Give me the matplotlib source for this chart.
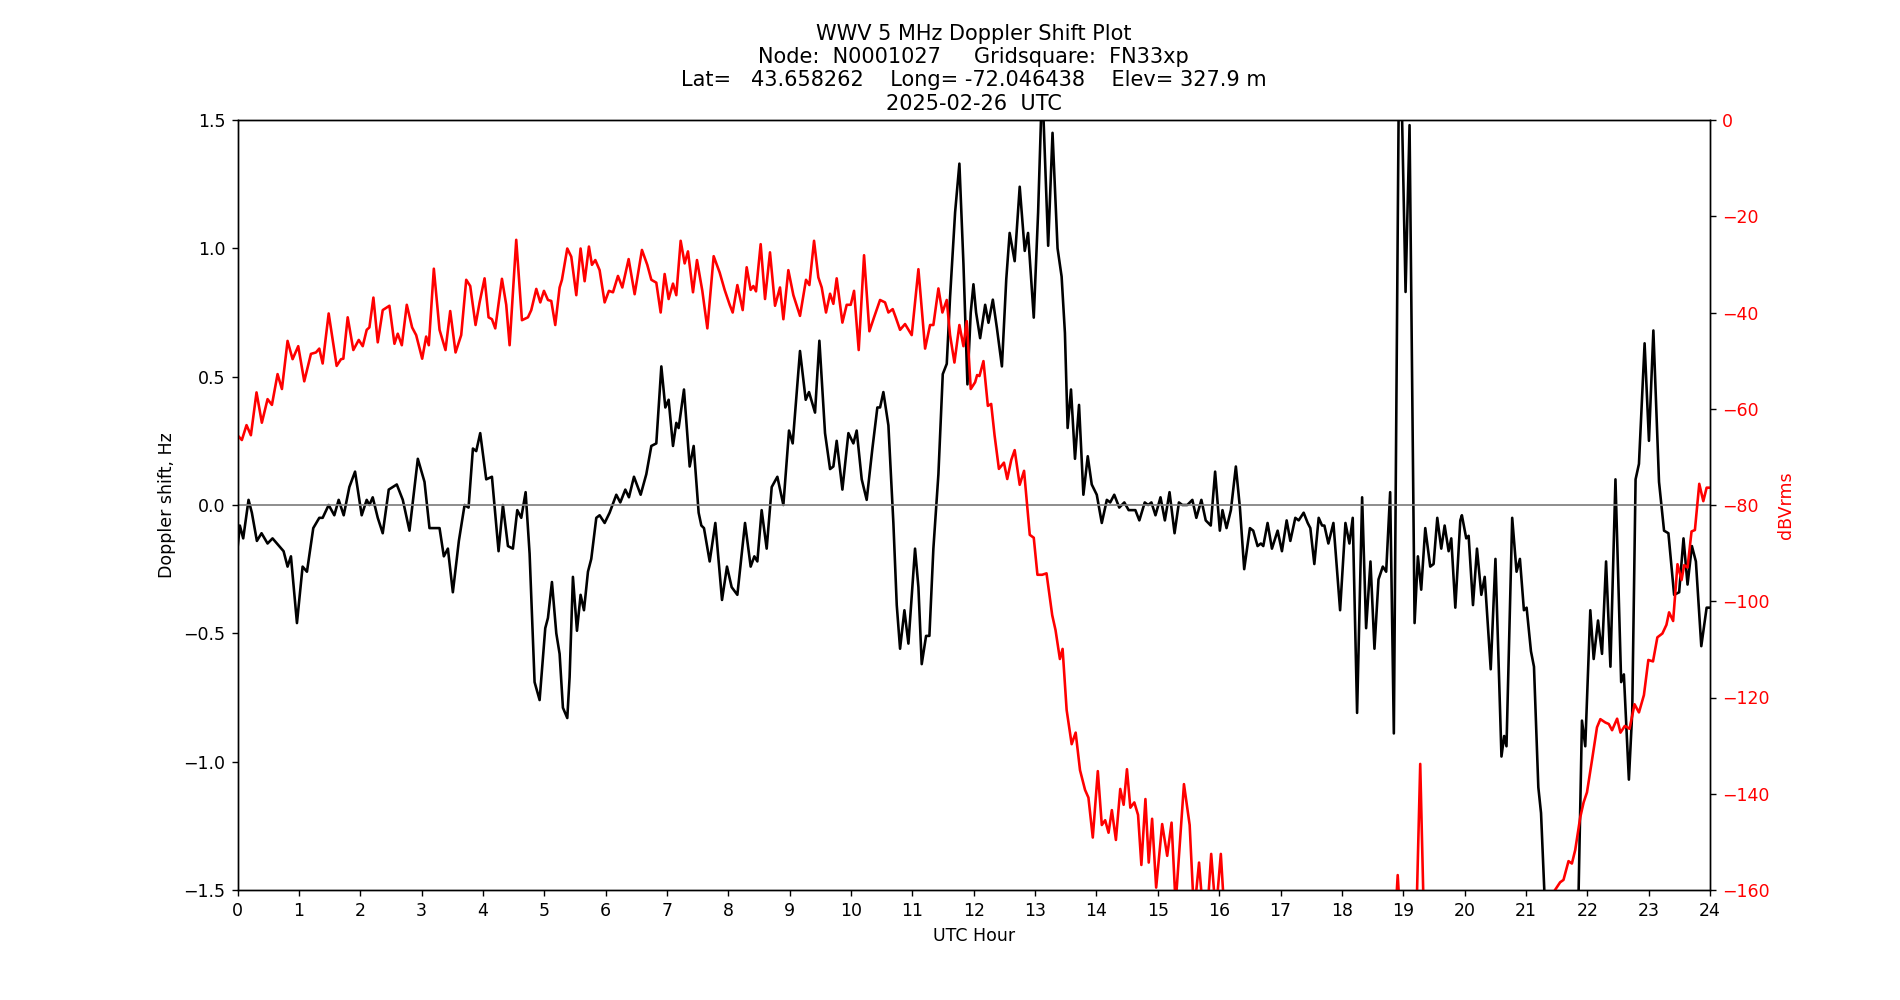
import matplotlib
matplotlib.use('Agg')
import matplotlib.pyplot as plt

# Doppler shift (Hz) vs UTC hour
doppler_hour = [
    0.0, 0.038, 0.093, 0.18, 0.234, 0.316, 0.392, 0.49, 0.571, 0.68, 0.751, 0.816, 0.871, 0.969,
    1.061, 1.132, 1.235, 1.333, 1.388, 1.486, 1.578, 1.649, 1.731, 1.823, 1.916, 2.024, 2.106,
    2.15, 2.204, 2.286, 2.367, 2.465, 2.596, 2.694, 2.803, 2.939, 3.048, 3.129, 3.211, 3.293,
    3.363, 3.429, 3.51, 3.608, 3.701, 3.766, 3.837, 3.891, 3.956,
    4.054, 4.147, 4.255, 4.326, 4.408, 4.489, 4.56, 4.625, 4.696, 4.761, 4.842, 4.924, 5.016,
    5.06, 5.125, 5.196, 5.25, 5.304, 5.375, 5.413, 5.467, 5.533, 5.592, 5.647, 5.712, 5.766,
    5.848, 5.902, 5.984, 6.065, 6.174, 6.239, 6.321, 6.38, 6.462, 6.571, 6.663, 6.745, 6.826,
    6.908, 6.973, 7.027, 7.098, 7.152, 7.19, 7.277, 7.37, 7.435, 7.516, 7.56, 7.603, 7.696,
    7.788, 7.897, 7.978,
    8.054, 8.147, 8.272, 8.364, 8.424, 8.473, 8.543, 8.625, 8.707, 8.799, 8.897, 8.989, 9.049,
    9.168, 9.261, 9.315, 9.413, 9.484, 9.576, 9.658, 9.712, 9.766, 9.859, 9.957, 10.038, 10.092,
    10.174, 10.255, 10.348, 10.429, 10.473, 10.527, 10.609, 10.69, 10.745, 10.799, 10.87, 10.935,
    11.043, 11.098, 11.152, 11.223, 11.277, 11.342, 11.424, 11.495, 11.56, 11.614, 11.696,
    11.766, 11.832, 11.897, 11.951, 11.995,
    12.038, 12.104, 12.186, 12.24, 12.311, 12.377, 12.459, 12.53, 12.585, 12.667, 12.749, 12.831,
    12.885, 12.978, 13.049, 13.115, 13.213, 13.284, 13.366, 13.432, 13.486, 13.53, 13.585, 13.65,
    13.716, 13.787, 13.858, 13.923, 14.005, 14.087, 14.169, 14.224, 14.29, 14.372, 14.454,
    14.525, 14.634, 14.699, 14.787, 14.842, 14.896, 14.962, 15.044, 15.115, 15.191, 15.273,
    15.344, 15.399, 15.481, 15.563, 15.628, 15.71, 15.781, 15.863, 15.934, 16.011,
    16.054, 16.12, 16.191, 16.272, 16.338, 16.408, 16.501, 16.555, 16.626, 16.68, 16.719, 16.789,
    16.86, 16.953, 17.023, 17.1, 17.16, 17.241, 17.296, 17.377, 17.443, 17.486, 17.551, 17.622,
    17.677, 17.715, 17.78, 17.862, 17.971, 18.058, 18.123, 18.177, 18.248, 18.33, 18.395, 18.466,
    18.531, 18.597, 18.667, 18.722, 18.787, 18.847, 18.94, 19.038, 19.103, 19.185, 19.239,
    19.293, 19.359, 19.44, 19.495, 19.555, 19.62, 19.675, 19.74, 19.783, 19.849, 19.93,
    19.956, 20.027, 20.066, 20.137, 20.202, 20.273, 20.328, 20.426, 20.503, 20.601, 20.645,
    20.683, 20.776, 20.847, 20.902, 20.967, 21.011, 21.082, 21.131, 21.202, 21.246, 21.301,
    21.5, 21.7, 21.858, 21.913, 21.967, 22.049, 22.104, 22.175, 22.24, 22.306, 22.377, 22.459,
    22.552, 22.596, 22.678, 22.732, 22.787, 22.842, 22.934, 23.005, 23.077, 23.169, 23.251,
    23.322, 23.415, 23.497, 23.568, 23.634, 23.705, 23.77, 23.858, 23.945, 24.0,
]
doppler_hz = [
    -0.17, -0.08, -0.13, 0.02, -0.03, -0.14, -0.11, -0.15, -0.13, -0.16, -0.18, -0.24, -0.20, -0.46,
    -0.24, -0.26, -0.09, -0.05, -0.05, 0.00, -0.04, 0.02, -0.04, 0.07, 0.13, -0.04, 0.02,
    0.00, 0.03, -0.05, -0.11, 0.06, 0.08, 0.02, -0.10, 0.18, 0.09, -0.09, -0.09, -0.09,
    -0.20, -0.17, -0.34, -0.14, 0.00, -0.01, 0.22, 0.21, 0.28,
    0.10, 0.11, -0.18, 0.00, -0.16, -0.17, -0.02, -0.05, 0.05, -0.19, -0.69, -0.76, -0.48,
    -0.44, -0.30, -0.50, -0.58, -0.79, -0.83, -0.67, -0.28, -0.49, -0.35, -0.41, -0.26, -0.21,
    -0.05, -0.04, -0.07, -0.03, 0.04, 0.01, 0.06, 0.03, 0.11, 0.04, 0.12, 0.23, 0.24,
    0.54, 0.38, 0.41, 0.23, 0.32, 0.30, 0.45, 0.15, 0.23, -0.03, -0.08, -0.09, -0.22,
    -0.07, -0.37, -0.24,
    -0.32, -0.35, -0.07, -0.24, -0.20, -0.22, -0.02, -0.17, 0.07, 0.11, 0.00, 0.29, 0.24,
    0.60, 0.41, 0.44, 0.36, 0.64, 0.28, 0.14, 0.15, 0.25, 0.06, 0.28, 0.24, 0.29,
    0.10, 0.02, 0.22, 0.38, 0.38, 0.44, 0.31, -0.07, -0.39, -0.56, -0.41, -0.54,
    -0.17, -0.32, -0.62, -0.51, -0.51, -0.17, 0.12, 0.51, 0.55, 0.81, 1.14,
    1.33, 0.94, 0.47, 0.75, 0.86,
    0.75, 0.65, 0.78, 0.71, 0.80, 0.69, 0.54, 0.88, 1.06, 0.95, 1.24, 0.99,
    1.06, 0.73, 1.14, 1.65, 1.01, 1.45, 1.00, 0.89, 0.67, 0.30, 0.45, 0.18,
    0.39, 0.04, 0.19, 0.08, 0.04, -0.07, 0.02, 0.01, 0.04, -0.01, 0.01,
    -0.02, -0.02, -0.06, 0.01, 0.00, 0.01, -0.04, 0.03, -0.06, 0.05, -0.11,
    0.01, 0.00, 0.00, 0.02, -0.05, 0.02, -0.06, -0.08, 0.13, -0.10,
    -0.02, -0.09, -0.02, 0.15, -0.01, -0.25, -0.09, -0.10, -0.16, -0.15, -0.16, -0.07,
    -0.17, -0.10, -0.18, -0.06, -0.14, -0.05, -0.06, -0.03, -0.07, -0.09, -0.23, -0.05,
    -0.08, -0.08, -0.15, -0.07, -0.41, -0.07, -0.15, -0.05, -0.81, 0.03, -0.48, -0.22,
    -0.56, -0.29, -0.24, -0.26, 0.05, -0.89, 2.00, 0.83, 1.48, -0.46, -0.20,
    -0.33, -0.09, -0.24, -0.23, -0.05, -0.17, -0.08, -0.18, -0.13, -0.40, -0.06,
    -0.04, -0.13, -0.12, -0.39, -0.17, -0.35, -0.28, -0.64, -0.21, -0.98, -0.90,
    -0.94, -0.05, -0.26, -0.21, -0.41, -0.40, -0.57, -0.63, -1.10, -1.20, -1.51,
    -1.90, -1.90, -1.51, -0.84, -0.94, -0.41, -0.60, -0.45, -0.58, -0.22, -0.63, 0.10,
    -0.69, -0.66, -1.07, -0.81, 0.10, 0.16, 0.63, 0.25, 0.68, 0.09, -0.10,
    -0.11, -0.35, -0.34, -0.13, -0.31, -0.16, -0.22, -0.55, -0.40, -0.40,
]

# signal level (dBVrms) vs UTC hour
level_hour = [
    0.0, 0.071, 0.147, 0.218, 0.31, 0.397, 0.49, 0.561, 0.653, 0.724, 0.816, 0.898, 0.99,
    1.088, 1.197, 1.279, 1.333, 1.388, 1.486, 1.616, 1.687, 1.725, 1.796, 1.888, 1.976,
    2.041, 2.106, 2.15, 2.215, 2.286, 2.367, 2.476, 2.558, 2.612, 2.678, 2.759, 2.846, 2.912,
    3.01, 3.075, 3.118, 3.2, 3.293, 3.39, 3.467, 3.554, 3.646, 3.728, 3.793, 3.88, 3.946, 4.027,
    4.092, 4.147, 4.201, 4.31, 4.38, 4.435, 4.543, 4.636, 4.734, 4.788, 4.87, 4.935, 4.995,
    5.06, 5.114, 5.179, 5.25, 5.288, 5.375, 5.44, 5.522, 5.592, 5.658, 5.728, 5.777, 5.832,
    5.902, 5.984, 6.054, 6.12, 6.201, 6.272, 6.375, 6.473, 6.592, 6.679, 6.745, 6.826, 6.897,
    6.962, 7.027, 7.098, 7.152, 7.223, 7.288, 7.342, 7.424, 7.489, 7.576, 7.658, 7.761, 7.859,
    7.94, 8.022,
    8.071, 8.147, 8.234, 8.299, 8.364, 8.408, 8.451, 8.527, 8.598, 8.679, 8.761, 8.842, 8.897,
    8.978, 9.06, 9.168, 9.266, 9.321, 9.397, 9.467, 9.522, 9.592, 9.658, 9.712, 9.766, 9.859,
    9.929, 9.995, 10.049, 10.125, 10.212, 10.299, 10.375, 10.473, 10.554, 10.609, 10.679,
    10.728, 10.799, 10.88, 10.989, 11.098, 11.207, 11.288, 11.342, 11.424, 11.489, 11.56,
    11.614, 11.685, 11.766, 11.832, 11.886, 11.951, 12.022,
    12.055, 12.093, 12.158, 12.23, 12.284, 12.339, 12.41, 12.492, 12.546, 12.612, 12.667,
    12.749, 12.82, 12.913, 12.978, 13.038, 13.115, 13.186, 13.279, 13.333, 13.404, 13.448,
    13.514, 13.596, 13.661, 13.732, 13.814, 13.869, 13.94, 14.022, 14.087, 14.142, 14.197,
    14.251, 14.317, 14.388, 14.443, 14.497, 14.552, 14.617, 14.678, 14.732, 14.798, 14.852,
    14.907, 14.973, 15.071, 15.153, 15.224, 15.29, 15.426, 15.519, 15.59, 15.672, 15.738,
    15.81, 15.87, 15.945, 16.027, 16.10,
    18.86, 18.91, 18.96, 19.21, 19.277, 19.34,
    21.40, 21.448, 21.557, 21.612, 21.694, 21.749, 21.803, 21.885, 21.94, 21.995, 22.077,
    22.158, 22.213, 22.295, 22.35, 22.404, 22.486, 22.541, 22.612, 22.689, 22.77, 22.842,
    22.923, 22.995, 23.071, 23.142, 23.224, 23.29, 23.333, 23.399, 23.47, 23.536, 23.579,
    23.634, 23.699, 23.754, 23.825, 23.891, 23.945, 24.0,
]
level_db = [
    -65.5, -66.5, -63.4, -65.5, -56.6, -62.9, -58.0, -59.2, -52.8, -55.9, -45.9, -49.7, -47.0,
    -54.3, -48.6, -48.3, -47.5, -50.6, -40.2, -51.1, -49.7, -49.6, -41.0, -47.8, -45.7,
    -47.0, -43.6, -43.1, -36.9, -46.2, -39.5, -38.6, -46.5, -44.4, -46.8, -38.4, -43.1, -44.7,
    -49.6, -45.0, -46.8, -30.9, -43.6, -47.8, -39.7, -48.3, -44.7, -33.2, -34.5, -42.6, -37.9, -32.9,
    -41.0, -41.4, -43.3, -33.0, -38.4, -46.8, -24.9, -41.6, -41.0, -39.5, -35.1, -37.9, -35.5,
    -37.4, -37.6, -42.6, -34.8, -33.2, -26.7, -28.4, -36.4, -26.7, -33.5, -26.3, -30.1, -29.1,
    -31.2, -37.9, -35.5, -35.8, -32.4, -34.8, -28.9, -36.2, -27.0, -30.1, -33.2, -33.8, -40.0,
    -32.0, -37.2, -34.0, -36.4, -25.1, -29.8, -27.3, -35.8, -29.1, -35.5, -43.3, -28.3, -31.7,
    -35.3, -38.4,
    -40.0, -34.3, -39.5, -30.6, -35.3, -34.5, -35.6, -25.8, -37.2, -27.5, -38.6, -34.8, -41.4,
    -31.2, -36.4, -40.7, -33.2, -34.3, -25.1, -32.7, -34.8, -40.0, -36.1, -38.2, -32.9, -42.1,
    -38.4, -38.4, -35.5, -47.8, -28.1, -43.9, -41.0, -37.4, -37.9, -40.0, -39.3,
    -41.0, -43.6, -42.4, -44.7, -31.0, -47.5, -42.6, -42.6, -35.0, -40.0, -37.4,
    -44.7, -50.4, -42.6, -47.0, -41.8, -55.9, -54.5,
    -53.0, -53.2, -50.1, -59.4, -59.0, -65.5, -72.5, -71.2, -74.6, -70.6, -68.6,
    -75.8, -72.9, -86.2, -86.8, -94.5, -94.5, -94.2, -102.9, -106.0, -112.0, -109.9,
    -122.6, -129.7, -127.3, -135.1, -139.2, -140.8, -149.1, -135.3, -146.5, -145.5, -148.1,
    -143.4, -149.6, -139.0, -142.3, -134.9, -142.9, -141.8, -144.4, -154.8, -141.1, -154.3,
    -145.2, -159.5, -146.3, -152.9, -146.0, -163.0, -138.0, -146.5, -165.0, -154.3, -165.0,
    -164.0, -152.5, -165.0, -152.5, -168.0,
    -168.0, -156.9, -168.0, -168.0, -133.8, -168.0,
    -168.0, -160.5, -158.4, -157.9, -154.0, -154.5, -151.7, -144.9, -141.8, -139.7, -133.0,
    -126.2, -124.5, -125.2, -125.5, -126.8, -124.4, -127.3, -125.9, -126.5, -121.4, -123.1,
    -119.5, -112.2, -112.5, -107.5, -106.7, -104.9, -102.3, -104.1, -92.3, -95.6, -92.5,
    -93.0, -85.5, -85.2, -75.6, -79.2, -76.4, -76.4,
]

fig = plt.figure(figsize=(15.2, 8), dpi=125)
ax = fig.add_subplot(111)

ax.plot(doppler_hour, doppler_hz, color='black', linewidth=1.5)
ax.axhline(0, color='grey', linewidth=1)
ax.set_xlim(0, 24)
ax.set_ylim(-1.5, 1.5)
ax.set_xticks(range(0, 25))
ax.set_xlabel('UTC Hour')
ax.set_ylabel('Doppler shift, Hz')
ax.set_title('WWV 5 MHz Doppler Shift Plot\n'
             'Node:  N0001027     Gridsquare:  FN33xp\n'
             'Lat=   43.658262    Long= -72.046438    Elev= 327.9 m\n'
             '2025-02-26  UTC')

# second axis for signal level
ax2 = ax.twinx()
ax2.plot(level_hour, level_db, color='red', linewidth=1.5)
ax2.set_ylim(-160, 0)
ax2.set_ylabel('dBVrms', color='red')
ax2.tick_params(axis='y', labelcolor='red')

fig.savefig('out.png', dpi=125)
